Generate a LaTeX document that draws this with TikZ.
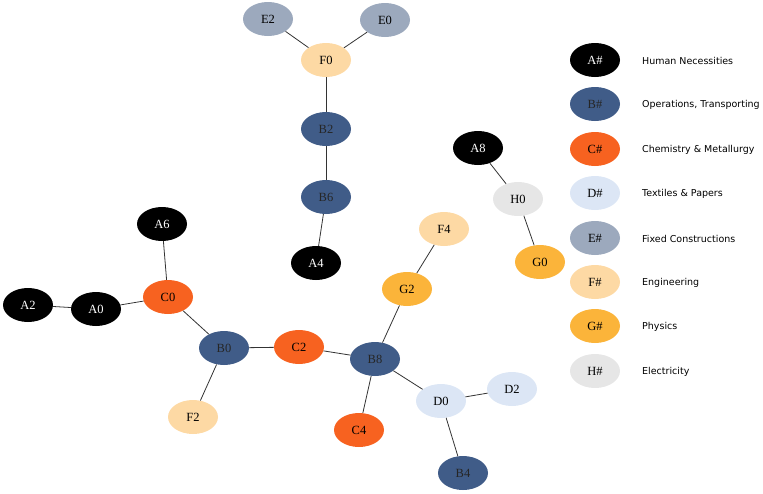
\documentclass[tikz,border=0pt]{standalone}
\usepackage{fontspec}
\setmainfont{Liberation Serif}
\newfontfamily\legfont{DejaVu Sans}
\usetikzlibrary{shapes.geometric}
\definecolor{cA}{HTML}{000000}
\definecolor{cB}{HTML}{405C88}
\definecolor{cC}{HTML}{F76220}
\definecolor{cD}{HTML}{DCE6F5}
\definecolor{cE}{HTML}{9CA9BD}
\definecolor{cF}{HTML}{FDD9A4}
\definecolor{cG}{HTML}{FBB43A}
\definecolor{cH}{HTML}{E6E6E6}
\tikzset{
  nd/.style={ellipse, minimum width=50pt, minimum height=34pt, inner sep=0pt, font=\fontsize{12.5}{12.5}\selectfont},
  nA/.style={nd, fill=cA, text=white},
  nB/.style={nd, fill=cB, text=black!85},
  nC/.style={nd, fill=cC, text=black},
  nD/.style={nd, fill=cD, text=black},
  nE/.style={nd, fill=cE, text=black},
  nF/.style={nd, fill=cF, text=black},
  nG/.style={nd, fill=cG, text=black},
  nH/.style={nd, fill=cH, text=black},
  lg/.style={anchor=west, font=\legfont\fontsize{9.5}{11}\selectfont, inner sep=0pt},
  ed/.style={draw=black!80, line width=0.8pt}
}
\begin{document}
\begin{tikzpicture}[x=1pt,y=-1pt]
\useasboundingbox (0,0) rectangle (763,493);
% nodes
\node[nE] (E2) at (268,19) {E2};
\node[nE] (E0) at (385,20) {E0};
\node[nF] (F0) at (326,60) {F0};
\node[nB] (B2) at (326,129) {B2};
\node[nB] (B6) at (326,197) {B6};
\node[nA] (A4) at (316,263) {A4};
\node[nA] (A8) at (478,148) {A8};
\node[nH] (H0) at (518,199) {H0};
\node[nG] (G0) at (540,262) {G0};
\node[nF] (F4) at (444,229) {F4};
\node[nG] (G2) at (407,289) {G2};
\node[nA] (A6) at (162,224) {A6};
\node[nC] (C0) at (168,297) {C0};
\node[nA] (A2) at (28,305) {A2};
\node[nA] (A0) at (96,309) {A0};
\node[nB] (B0) at (224,348) {B0};
\node[nC] (C2) at (299,347) {C2};
\node[nB] (B8) at (375,359) {B8};
\node[nF] (F2) at (193,417) {F2};
\node[nD] (D0) at (441,401) {D0};
\node[nD] (D2) at (512,389) {D2};
\node[nC] (C4) at (359,430) {C4};
\node[nB] (B4) at (463,473) {B4};
% edges
\draw[ed] (E2) -- (F0);
\draw[ed] (E0) -- (F0);
\draw[ed] (F0) -- (B2);
\draw[ed] (B2) -- (B6);
\draw[ed] (B6) -- (A4);
\draw[ed] (A8) -- (H0);
\draw[ed] (H0) -- (G0);
\draw[ed] (F4) -- (G2);
\draw[ed] (G2) -- (B8);
\draw[ed] (A6) -- (C0);
\draw[ed] (A2) -- (A0);
\draw[ed] (A0) -- (C0);
\draw[ed] (C0) -- (B0);
\draw[ed] (B0) -- (C2);
\draw[ed] (B0) -- (F2);
\draw[ed] (C2) -- (B8);
\draw[ed] (B8) -- (D0);
\draw[ed] (B8) -- (C4);
\draw[ed] (D0) -- (D2);
\draw[ed] (D0) -- (B4);
% legend
\node[nA] (LA) at (595,60) {A\#};
\node[nB] (LB) at (595,104) {B\#};
\node[nC] (LC) at (595,149) {C\#};
\node[nD] (LD) at (595,193) {D\#};
\node[nE] (LE) at (595,238) {E\#};
\node[nF] (LF) at (595,282) {F\#};
\node[nG] (LG) at (595,326) {G\#};
\node[nH] (LH) at (595,371) {H\#};
\node[lg] (TA) at (642,61) {Human Necessities};
\node[lg] (TB) at (642,105) {Operations, Transporting};
\node[lg] (TC) at (642,150) {Chemistry \& Metallurgy};
\node[lg] (TD) at (642,194) {Textiles \& Papers};
\node[lg] (TE) at (642,239) {Fixed Constructions};
\node[lg] (TF) at (642,283) {Engineering};
\node[lg] (TG) at (642,327) {Physics};
\node[lg] (TH) at (642,372) {Electricity};
\end{tikzpicture}
\end{document}
